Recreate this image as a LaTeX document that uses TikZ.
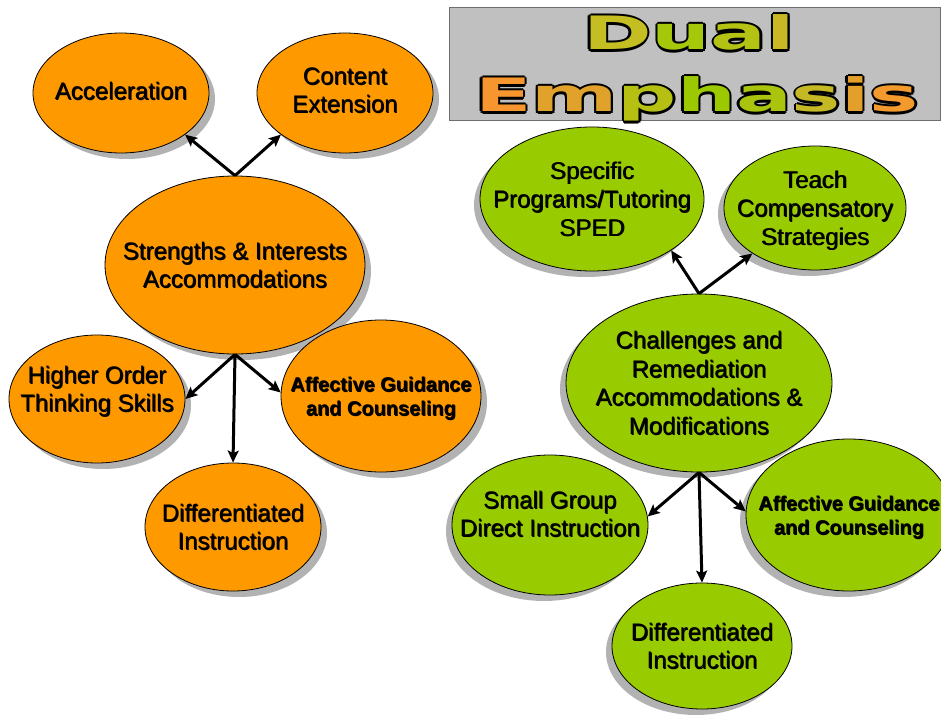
\documentclass[tikz,border=0pt]{standalone}
\usepackage{fontspec}
\setmainfont{Liberation Sans}
\newfontfamily\titlefont{DejaVu Sans}
\usetikzlibrary{shapes.geometric,shadows,arrows.meta}
\definecolor{orng}{HTML}{FF9900}
\definecolor{grn}{HTML}{99CC00}
\definecolor{shd}{HTML}{B2B2B2}
\definecolor{boxgray}{HTML}{C0C0C0}
\definecolor{boxline}{HTML}{6E6E6E}
\definecolor{tD}{HTML}{C4BE22}
\definecolor{tu}{HTML}{A6C80A}
\definecolor{ta}{HTML}{B4C214}
\definecolor{tl}{HTML}{C8B826}
\definecolor{tE}{HTML}{F7962E}
\definecolor{tm}{HTML}{E0A22A}
\definecolor{tp}{HTML}{B5C012}
\definecolor{th}{HTML}{9CC800}
\definecolor{tA}{HTML}{AAC40E}
\definecolor{ts}{HTML}{C4B824}
\definecolor{ti}{HTML}{E2A02A}
\definecolor{tS}{HTML}{F39A2E}
\newsavebox\txtbox
% centred multi-line text of zero size, with a faint white shadow
\newcommand\ctext[2][0pt]{%
  \sbox\txtbox{\begin{tabular}{@{}c@{}}#2\end{tabular}}%
  \makebox[0pt]{\raisebox{\dimexpr(\dp\txtbox-\ht\txtbox)/2-2.8pt+#1\relax}[0pt][0pt]{%
    \rlap{\kern0.9pt\raisebox{-0.9pt}{\color{white}\usebox\txtbox}}\usebox\txtbox}}}
\newcommand\lc[2]{\textcolor{#1}{#2}}
\newcommand\outl[1]{{\color{black}\def\lc##1##2{##2}%
  \rlap{\kern1.3pt#1}\rlap{\kern-1.3pt#1}%
  \rlap{\raisebox{2.3pt}{#1}}\rlap{\raisebox{-2.3pt}{#1}}%
  \rlap{\kern0.92pt\raisebox{1.63pt}{#1}}\rlap{\kern-0.92pt\raisebox{1.63pt}{#1}}%
  \rlap{\kern0.92pt\raisebox{-1.63pt}{#1}}\rlap{\kern-0.92pt\raisebox{-1.63pt}{#1}}}#1}
\tikzset{
  bub/.style={ellipse, draw=black, line width=0.8pt, inner sep=0pt,
    font=\fontsize{24}{28.5}\selectfont},
  lbub/.style={bub, fill=orng,
    drop shadow={shadow xshift=6pt, shadow yshift=-6pt, fill=shd, opacity=1}},
  rbub/.style={bub, fill=grn,
    drop shadow={shadow xshift=-6pt, shadow yshift=-6pt, fill=shd, opacity=1}},
  boldtxt/.style={font=\bfseries\fontsize{20}{24}\selectfont},
  arr/.style={line width=3pt, -{Stealth[length=12pt,width=11pt,inset=2.5pt]}},
  titletxt/.style={anchor=base, inner sep=0pt,
    font=\titlefont\bfseries\fontsize{46}{46}\selectfont},
}
\begin{document}
\begin{tikzpicture}[x=1pt,y=-1pt]
\useasboundingbox (0,0) rectangle (941,714);
\fill[white] (0,0) rectangle (941,714);

% title
\node[draw=boxline, line width=1pt, fill=boxgray, minimum width=491pt,
  minimum height=113pt, inner sep=0pt] (title) at (694.5,64.5) {};
\node[titletxt] (dual) at (689,50)
  {\scalebox{1.8}[1]{\outl{\lc{tD}{D}\lc{tu}{u}\lc{ta}{a}\lc{tl}{l}}}};
\node[titletxt] (emph) at (697,112)
  {\scalebox{1.8}[1]{\outl{\lc{tE}{E}\lc{tm}{m}\lc{tp}{p}\lc{th}{h}\lc{tA}{a}\lc{ts}{s}\lc{ti}{i}\lc{tS}{s}}}};

% left cluster
\node[lbub, minimum width=260pt, minimum height=178pt] (si) at (235,265)
  {\ctext{Strengths \& Interests\\Accommodations}};
\node[lbub, minimum width=176pt, minimum height=120pt] (acc) at (121,93)
  {\ctext[2pt]{Acceleration}};
\node[lbub, minimum width=176pt, minimum height=120pt] (ce) at (345,93)
  {\ctext[3pt]{Content\\Extension}};
\node[lbub, minimum width=176pt, minimum height=128pt] (ho) at (97,399)
  {\ctext[10pt]{Higher Order\\Thinking Skills}};
\node[lbub, boldtxt, minimum width=200pt, minimum height=152pt] (agl) at (381,396)
  {\ctext{Affective Guidance\\and Counseling}};
\node[lbub, minimum width=176pt, minimum height=128pt] (dil) at (233,527)
  {\ctext{Differentiated\\Instruction}};

% right cluster
\node[rbub, minimum width=266pt, minimum height=178pt] (cr) at (699,383)
  {\ctext{Challenges and\\Remediation\\Accommodations \&\\Modifications}};
\node[rbub, minimum width=224pt, minimum height=144pt] (sp) at (592,199)
  {\ctext{Specific\\Programs/Tutoring\\SPED}};
\node[rbub, minimum width=182pt, minimum height=124pt] (tc) at (815,208)
  {\ctext{Teach\\Compensatory\\Strategies}};
\node[rbub, minimum width=196pt, minimum height=140pt] (sg) at (550,525)
  {\ctext[11pt]{Small Group\\Direct Instruction}};
\node[rbub, boldtxt, minimum width=206pt, minimum height=152pt] (agr) at (849,515)
  {\ctext{Affective Guidance\\and Counseling}};
\node[rbub, minimum width=180pt, minimum height=126pt] (dir) at (702,646)
  {\ctext{Differentiated\\Instruction}};

% connectors
\draw[arr] (si.north) -- (acc.-33);
\draw[arr] (si.north) -- (ce.-147);
\draw[arr] (si.south) -- (ho.east);
\draw[arr] (si.south) -- (agl.178);
\draw[arr] (si.south) -- (dil.north);
\draw[arr] (cr.north) -- (sp.-33);
\draw[arr] (cr.north) -- (tc.-144);
\draw[arr] (cr.south) -- (sg.5);
\draw[arr] (cr.south) -- (agr.178);
\draw[arr] (cr.south) -- (dir.north);
\end{tikzpicture}
\end{document}
